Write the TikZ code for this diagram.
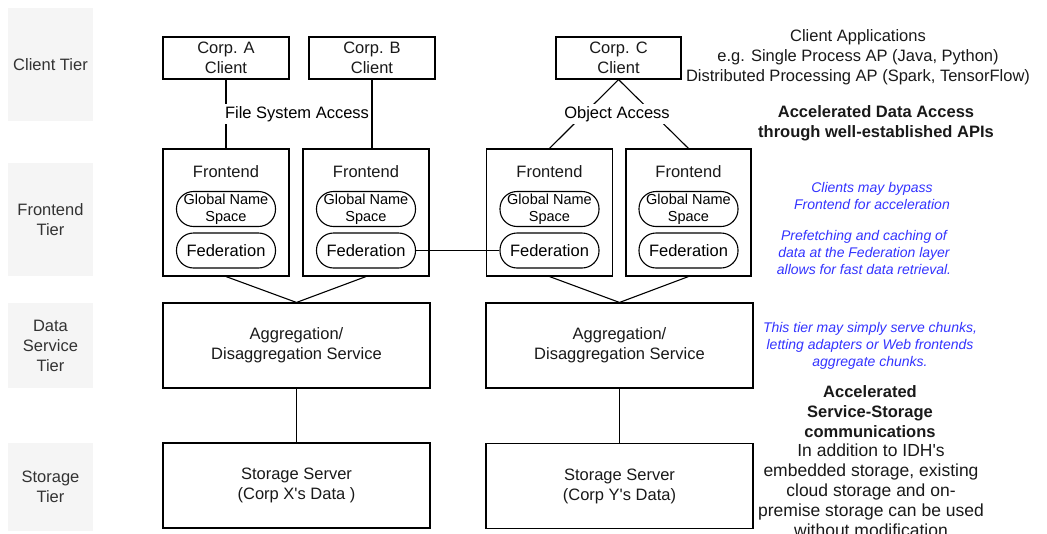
\documentclass[tikz,border=0pt]{standalone}
\usepackage{fontspec}
\setmainfont{Liberation Sans}
\definecolor{tiergray}{HTML}{F5F5F5}
\definecolor{noteblue}{RGB}{51,51,255}
\begin{document}
\begin{tikzpicture}[x=1pt,y=-1pt,line width=1.1pt,
  tier/.style={fill=tiergray,text=black!80,align=center,inner sep=0pt,minimum width=85pt,font=\fontsize{16.5}{20}\selectfont},
  box/.style={draw,align=center,inner sep=0pt,text=black!90,font=\fontsize{16.5}{20}\selectfont},
  pill/.style={draw,rounded corners=17pt,align=center,inner sep=0pt,minimum width=99pt,minimum height=35pt},
  lbl/.style={fill=white,inner sep=2pt,font=\fontsize{16.5}{20}\selectfont},
  note/.style={align=center,text=noteblue,font=\itshape\fontsize{14}{17}\selectfont},
  plain/.style={align=center,text=black!90,font=\fontsize{16.5}{20}\selectfont}]
\useasboundingbox (0,0) rectangle (1047,533);
\clip (0,0) rectangle (1047,533);
% tiers
\node[tier,minimum height=113pt] (T1) at (50.5,64.5) {Client Tier};
\node[tier,minimum height=113pt] (T2) at (50.5,219.5) {Frontend\\Tier};
\node[tier,minimum height=85pt] (T3) at (50.5,345.5) {Data\\Service\\Tier};
\node[tier,minimum height=88pt] (T4) at (50.5,487) {Storage\\Tier};
% clients
\node[box,minimum width=126pt,minimum height=42pt] (CA) at (226,58) {Corp. A\\Client};
\node[box,minimum width=126pt,minimum height=42pt] (CB) at (372,58) {Corp. B\\Client};
\node[box,minimum width=125pt,minimum height=42pt] (CC) at (618.5,58) {Corp. C\\Client};
% frontends
\node[box,minimum width=126pt,minimum height=127pt] (F1) at (226,212.5) {};
\node[box,minimum width=126pt,minimum height=127pt] (F2) at (366,212.5) {};
\node[box,minimum width=126pt,minimum height=127pt] (F3) at (549.5,212.5) {};
\node[box,minimum width=125pt,minimum height=127pt] (F4) at (688.5,212.5) {};
\node[plain] at (226,172) {Frontend};
\node[plain] at (366,172) {Frontend};
\node[plain] at (549.5,172) {Frontend};
\node[plain] at (688.5,172) {Frontend};
\node[pill,font=\fontsize{14.5}{16.5}\selectfont] (G1) at (226,209) {Global Name\\Space};
\node[pill,font=\fontsize{14.5}{16.5}\selectfont] (G2) at (366,209) {Global Name\\Space};
\node[pill,font=\fontsize{14.5}{16.5}\selectfont] (G3) at (549.5,209) {Global Name\\Space};
\node[pill,font=\fontsize{14.5}{16.5}\selectfont] (G4) at (688.5,209) {Global Name\\Space};
\node[pill,font=\fontsize{16.5}{20}\selectfont] (E1) at (226,250.5) {Federation};
\node[pill,font=\fontsize{16.5}{20}\selectfont] (E2) at (366,250.5) {Federation};
\node[pill,font=\fontsize{16.5}{20}\selectfont] (E3) at (549.5,250.5) {Federation};
\node[pill,font=\fontsize{16.5}{20}\selectfont] (E4) at (688.5,250.5) {Federation};
% services and storage
\node[box,minimum width=267pt,minimum height=85pt] (D1) at (296.5,345.5) {Aggregation/\\Disaggregation Service};
\node[box,minimum width=267pt,minimum height=85pt] (D2) at (619.5,345.5) {Aggregation/\\Disaggregation Service};
\node[box,minimum width=267pt,minimum height=85pt] (S1) at (296.5,485.5) {Storage Server\\(Corp X\textquotesingle s Data )};
\node[box,minimum width=267pt,minimum height=85pt] (S2) at (619.5,486) {Storage Server\\(Corp Y\textquotesingle s Data)};
% connectors
\draw (CA.south) -- (F1.north);
\draw (CB.south) -- (CB.south |- F2.north);
\draw (CC.south) -- (F3.north);
\draw (CC.south) -- (F4.north);
\draw (E2.east) -- (E3.west);
\draw (F1.south) -- (D1.north);
\draw (F2.south) -- (D1.north);
\draw (F3.south) -- (D2.north);
\draw (F4.south) -- (D2.north);
\draw (D1.south) -- (S1.north);
\draw (D2.south) -- (S2.north);
\node[lbl] (FS) at (297,114) {File System Access};
\node[lbl] (OA) at (617,114) {Object Access};
% notes
\node[plain] (N1) at (858,57) {Client Applications\\e.g. Single Process AP (Java, Python)\\Distributed Processing AP (Spark, TensorFlow)};
\node[plain,font=\bfseries\fontsize{16.5}{20}\selectfont] (N2) at (876,123) {Accelerated Data Access\\through well-established APIs};
\node[note] (N3) at (872,195.5) {Clients may bypass\\Frontend for acceleration};
\node[note] (N4) at (864,252) {Prefetching and caching of\\data at the Federation layer\\allows for fast data retrieval.};
\node[note] (N5) at (870,346) {This tier may simply serve chunks,\\letting adapters or Web frontends\\aggregate chunks.};
\node[plain,font=\bfseries\fontsize{16.5}{20}\selectfont] (N6) at (870,412) {Accelerated\\Service-Storage\\communications};
\node[plain,font=\fontsize{17.5}{20}\selectfont] (N7) at (871,490) {In addition to IDH\textquotesingle s\\embedded storage, existing\\cloud storage and on-\\premise storage can be used\\without modification};
\end{tikzpicture}
\end{document}
